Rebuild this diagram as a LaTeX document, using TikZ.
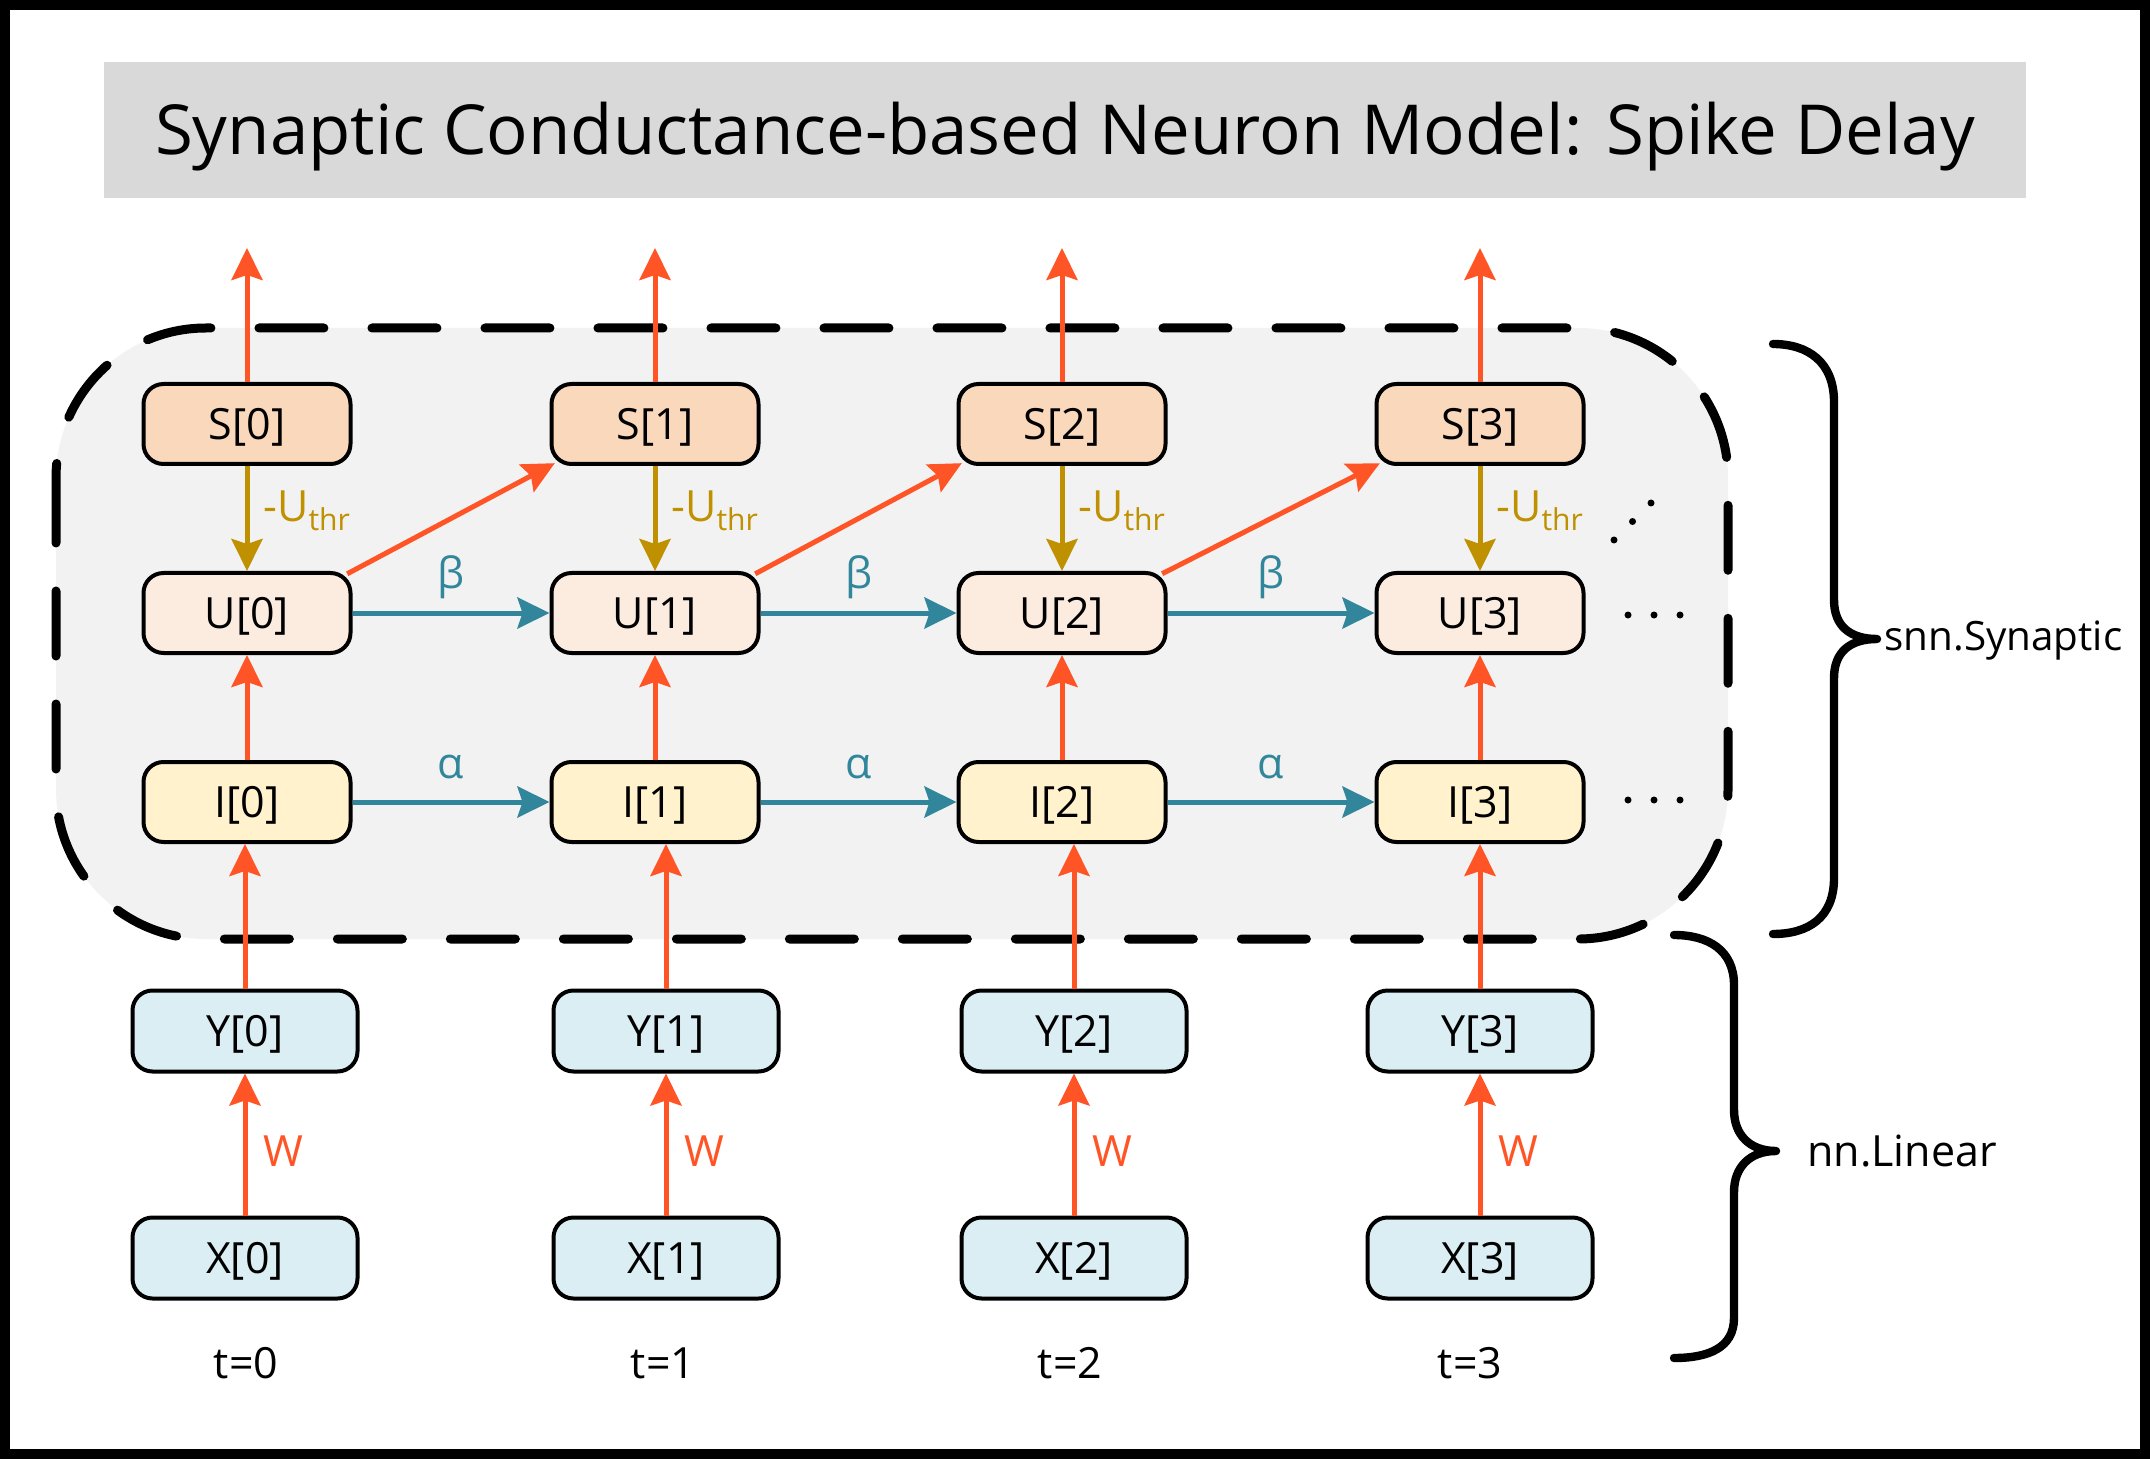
\documentclass[tikz,border=0pt]{standalone}
\usepackage{fontspec}
\setmainfont{Open Sans}
\usetikzlibrary{arrows.meta}
\definecolor{cOrange}{HTML}{FF5526}
\definecolor{cTeal}{HTML}{31869B}
\definecolor{cGold}{HTML}{BF9000}
\definecolor{cS}{HTML}{F9D8BC}
\definecolor{cU}{HTML}{FCEBDF}
\definecolor{cI}{HTML}{FFF2CC}
\definecolor{cY}{HTML}{DAEEF3}
\definecolor{cTitle}{HTML}{D9D9D9}
\definecolor{cPanel}{HTML}{F2F2F2}
\begin{document}
\begin{tikzpicture}[x=0.5pt,y=-0.5pt,
  lblfont/.style={font=\fontsize{21.5}{26}\selectfont},
  cell/.style={draw=black, line width=2pt, rounded corners=10pt, minimum width=103.5pt, minimum height=40pt, inner sep=0pt, lblfont, text height=15.3pt, text depth=0pt},
  scell/.style={cell, fill=cS},
  ucell/.style={cell, fill=cU},
  icell/.style={cell, fill=cI},
  ycell/.style={cell, fill=cY, minimum width=112.5pt, minimum height=40.5pt},
  tipline/.style={-{Stealth[length=16pt,width=15.5pt,inset=2.5pt]}, line width=2.5pt},
  oarrow/.style={tipline, draw=cOrange},
  tarrow/.style={tipline, draw=cTeal},
  garrow/.style={tipline, draw=cGold},
  lbl/.style={lblfont, inner sep=0pt},
  brace/.style={line width=4.2pt, line cap=round, line join=round},
]
\useasboundingbox (0,0) rectangle (2150,1459);
% outer frame
\draw[line width=5pt] (5,5) rectangle (2145,1454);
% dashed panel
\draw[fill=cPanel, line width=4.5pt, dash pattern=on 32.5pt off 24pt, line cap=round, rounded corners=75pt] (56,328) rectangle (1728,939);
% title
\node[fill=cTitle, minimum width=961pt, minimum height=68pt, inner sep=0pt, font=\fontsize{34.5}{40}\selectfont, text height=24.6pt, text depth=0pt] (title) at (1065,130) {Synaptic Conductance-based Neuron Model: Spike Delay};

% nodes
\foreach \i/\c/\yc/\tx in {0/247/245/246, 1/655/666/663, 2/1062/1074/1070, 3/1480/1480/1470}{
  \node[scell] (S\i) at (\c,424) {S[\i]};
  \node[ucell] (U\i) at (\c,613) {U[\i]};
  \node[icell] (I\i) at (\c,802) {I[\i]};
  \node[ycell] (Y\i) at (\yc,1031) {Y[\i]};
  \node[ycell] (X\i) at (\yc,1258) {X[\i]};
  \node[lbl, anchor=base] (t\i) at (\tx,1378) {t=\i};
  \coordinate (o\i) at (\c,248);
  \node[lbl, anchor=base west, text=cGold] (thr\i) at (\c+16,522) {-U\textsubscript{thr}};
  \node[lbl, text=cOrange] (w\i) at (\yc+38,1151) {W};
}
% vertical connectors
\foreach \i in {0,1,2,3}{
  \draw[oarrow] (S\i.north) -- (o\i);
  \draw[garrow] (S\i.south) -- (U\i.north);
  \draw[oarrow] (I\i.north) -- (U\i.south);
  \draw[oarrow] (Y\i.north) -- (Y\i.north |- I\i.south);
  \draw[oarrow] (X\i.north) -- (Y\i.south);
}
% horizontal and diagonal connectors
\foreach \i/\j in {0/1, 1/2, 2/3}{
  \draw[tarrow] (U\i.east) -- (U\j.west) node[midway, yshift=18pt, lbl, text=cTeal] (beta\i) {β};
  \draw[tarrow] (I\i.east) -- (I\j.west) node[midway, yshift=17.5pt, lbl, text=cTeal] (alpha\i) {α};
  \draw[oarrow, shorten <=-3pt, shorten >=-3pt] (U\i.north east) -- (S\j.south west);
}
% continuation dots
\foreach \x in {1628,1654,1680}{
  \fill (\x,615) circle[radius=1.75pt];
  \fill (\x,800) circle[radius=1.75pt];
}
\fill (1614,540) circle[radius=1.75pt];
\fill (1632.5,521.5) circle[radius=1.75pt];
\fill (1651,503) circle[radius=1.75pt];

% braces
\draw[brace] (1773,344) .. controls (1808,344) and (1834,362) .. (1834,402) -- (1834,600) .. controls (1834,626) and (1850,639) .. (1877,639) .. controls (1850,639) and (1834,652) .. (1834,678) -- (1834,878) .. controls (1834,918) and (1808,934) .. (1773,934);
\node[inner sep=0pt, font=\fontsize{20.2}{24}\selectfont, anchor=base west] (snn) at (1884,650) {snn.Synaptic};
\draw[brace] (1674,935) .. controls (1708,935) and (1734,950) .. (1734,985) -- (1734,1110) .. controls (1734,1135) and (1750,1151) .. (1776,1151) .. controls (1750,1151) and (1734,1167) .. (1734,1192) -- (1734,1318) .. controls (1734,1348) and (1708,1358) .. (1674,1358);
\node[lbl, anchor=base west] (nnl) at (1807,1166) {nn.Linear};
\end{tikzpicture}
\end{document}
